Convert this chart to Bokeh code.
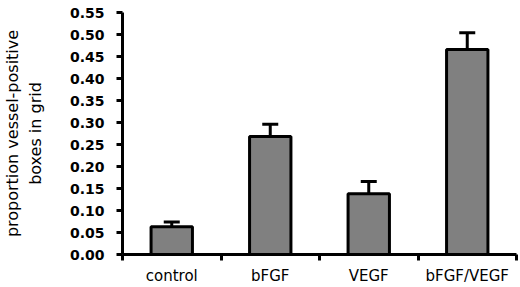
import numpy as np
from bokeh.plotting import figure
from bokeh.models import Range1d, FixedTicker, Whisker, ColumnDataSource, TeeHead
from bokeh.embed import file_html
from bokeh.resources import INLINE

categories = ["control", "bFGF", "VEGF", "bFGF/VEGF"]
means = [0.063, 0.268, 0.138, 0.466]
errors = [0.011, 0.028, 0.028, 0.038]
y_ticks = [0.0, 0.05, 0.10, 0.15, 0.20, 0.25, 0.30, 0.35, 0.40, 0.45, 0.50, 0.55]
y_tick_labels = ["0.00", "0.05", "0.10", "0.15", "0.20", "0.25", "0.30",
                 "0.35", "0.40", "0.45", "0.50", "0.55"]
y_label = "proportion vessel-positive\nboxes in grid"

xs = np.arange(len(categories)) + 0.5
src = ColumnDataSource(dict(
    x=xs, top=means,
    upper=[m + e for m, e in zip(means, errors)],
    lower=[m - e for m, e in zip(means, errors)],
))

p = figure(width=520, height=287, output_backend="svg", toolbar_location=None,
           x_range=Range1d(0, len(categories)), y_range=Range1d(0, 0.55),
           min_border_left=118, min_border_right=4, min_border_top=12,
           min_border_bottom=30)
p.outline_line_color = None
p.xgrid.visible = False
p.ygrid.visible = False
p.background_fill_color = "white"
p.border_fill_color = "white"

p.vbar(x="x", top="top", width=0.42, bottom=0, source=src,
       fill_color="#808080", line_color="black", line_width=3)

w = Whisker(base="x", upper="upper", lower="lower", source=src,
            line_color="black", line_width=3,
            upper_head=TeeHead(size=16, line_width=3, line_color="black"),
            lower_head=TeeHead(size=16, line_width=3, line_color="black"))
p.add_layout(w)

# y axis
p.yaxis.ticker = FixedTicker(ticks=y_ticks)
p.yaxis.major_label_overrides = {t: l for t, l in zip(y_ticks, y_tick_labels)}
p.yaxis.axis_line_width = 3
p.yaxis.major_tick_line_width = 3
p.yaxis.major_tick_out = 6
p.yaxis.major_tick_in = 0
p.yaxis.minor_tick_line_color = None
p.yaxis.major_label_text_font = "DejaVu Sans"
p.yaxis.major_label_text_font_style = "bold"
p.yaxis.major_label_text_font_size = "14px"
p.yaxis.major_label_text_color = "black"
p.yaxis.major_label_standoff = 12
p.yaxis.axis_label = y_label
p.yaxis.axis_label_text_font = "DejaVu Sans"
p.yaxis.axis_label_text_font_style = "normal"
p.yaxis.axis_label_text_font_size = "16px"
p.yaxis.axis_label_text_color = "black"
p.yaxis.axis_label_standoff = 22

# x axis: labels at centers, ticks at boundaries
p.xaxis.ticker = FixedTicker(ticks=list(xs), minor_ticks=list(range(len(categories) + 1)))
p.xaxis.major_label_overrides = {float(x): c for x, c in zip(xs, categories)}
p.xaxis.axis_line_width = 3
p.xaxis.major_tick_line_color = None
p.xaxis.major_tick_out = 0
p.xaxis.major_tick_in = 0
p.xaxis.minor_tick_line_width = 3
p.xaxis.minor_tick_out = 6
p.xaxis.minor_tick_in = 0
p.xaxis.major_label_text_font = "DejaVu Sans"
p.xaxis.major_label_text_font_size = "15px"
p.xaxis.major_label_text_color = "black"
p.xaxis.major_label_standoff = 6

open("out.html", "w").write(file_html(p, INLINE))
